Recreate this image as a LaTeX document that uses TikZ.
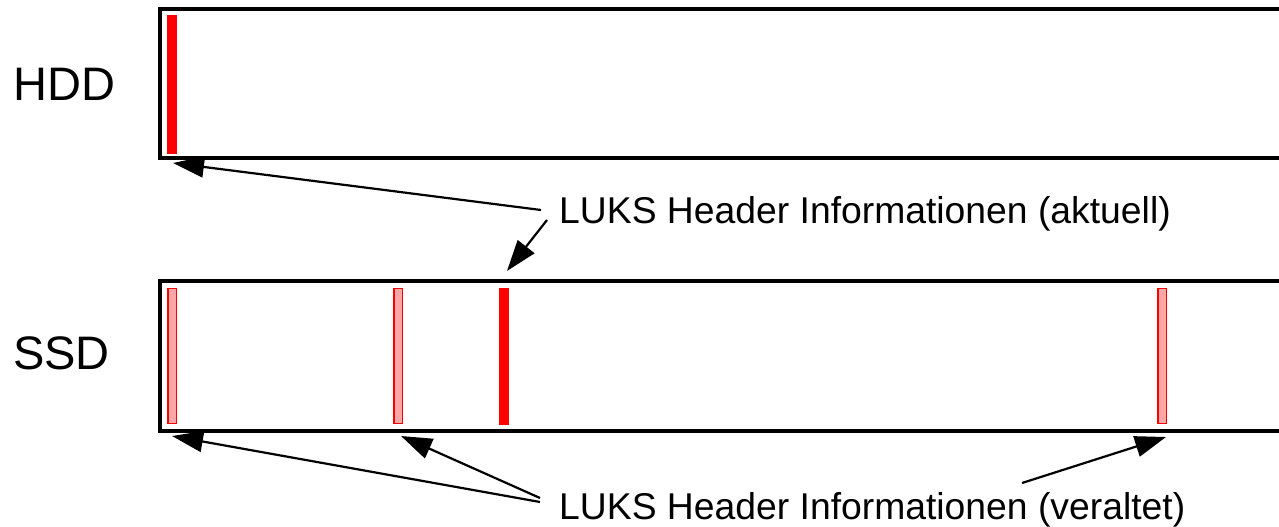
\documentclass[tikz,border=0pt]{standalone}
\usepackage{fontspec}
\setmainfont{Liberation Sans}
\usetikzlibrary{arrows.meta}
\begin{document}
\begin{tikzpicture}[x=1pt,y=-1pt,
  disk/.style={draw=black,line width=3.5pt,fill=white},
  newhdr/.style={draw=red,fill=red,line width=0.8pt,inner sep=0pt},
  oldhdr/.style={draw=red,fill=red!35,line width=1.5pt,inner sep=0pt},
  biglabel/.style={font=\fontsize{47}{50}\selectfont,anchor=base west,inner sep=0pt},
  hdrlabel/.style={font=\fontsize{37.3}{40}\selectfont,anchor=base west,inner sep=0pt},
  pointer/.style={line width=2.2pt,-{Triangle[length=31pt,width=21pt]}}]
\useasboundingbox (0,0) rectangle (1279,527);
% disks
\draw[disk] (160,9) rectangle (1295,158);
\draw[disk] (160,281) rectangle (1295,431);
% header blocks
\node[newhdr,minimum width=8.5pt,minimum height=138pt] (h1) at (172,84) {};
\node[oldhdr,minimum width=8.5pt,minimum height=135pt] (s1) at (172,356) {};
\node[oldhdr,minimum width=8.5pt,minimum height=135pt] (s2) at (398,356) {};
\node[newhdr,minimum width=9pt,minimum height=136pt] (s3) at (504,356) {};
\node[oldhdr,minimum width=8.5pt,minimum height=135pt] (s4) at (1162,356) {};
% labels
\node[biglabel] (hdd) at (13,100) {HDD};
\node[biglabel] (ssd) at (13,369) {SSD};
\node[hdrlabel] (akt) at (559,223) {LUKS Header Informationen (aktuell)};
\node[hdrlabel] (alt) at (559,519) {LUKS Header Informationen (veraltet)};
% arrow targets
\coordinate (th1) at (173,163);
\coordinate (ts3) at (507,271);
\coordinate (ts1) at (172,436);
\coordinate (ts2) at (401,436);
\coordinate (ts4) at (1166,437);
\coordinate (a1) at (541,210);
\coordinate (a2) at (547,220);
\coordinate (b1) at (540,502);
\coordinate (b2) at (540,498);
\coordinate (b4) at (1022,483);
% connectors
\draw[pointer] (a1) -- (th1);
\draw[pointer] (a2) -- (ts3);
\draw[pointer] (b1) -- (ts1);
\draw[pointer] (b2) -- (ts2);
\draw[pointer] (b4) -- (ts4);
\end{tikzpicture}
\end{document}
